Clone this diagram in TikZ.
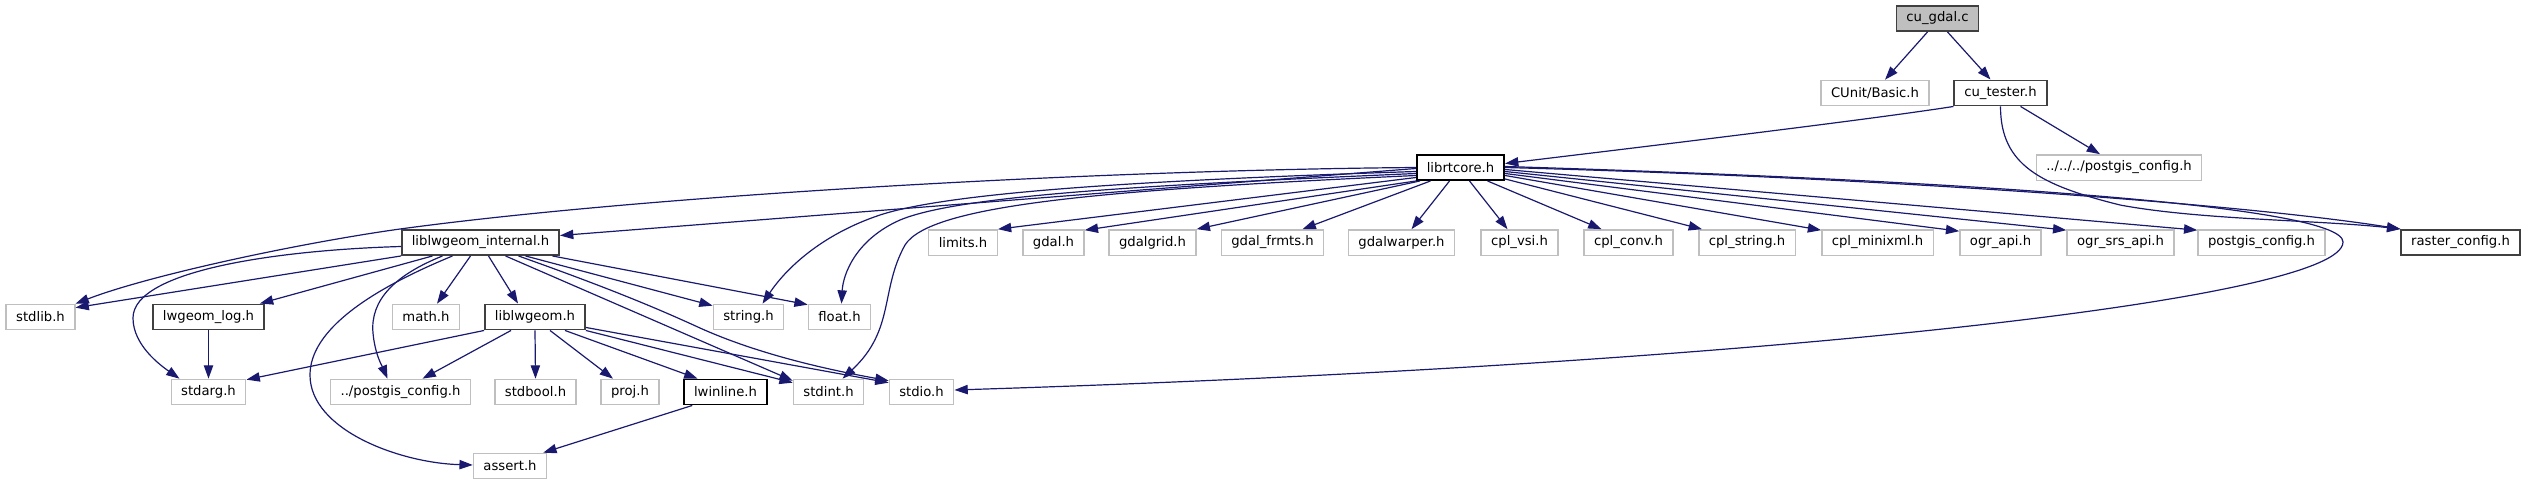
\documentclass[tikz,border=0pt]{standalone}
\usepackage{fontspec}
\setmainfont{DejaVu Sans}
\usepackage{tikz}
\usetikzlibrary{calc, positioning, arrows.meta}
\definecolor{edgeblue}{HTML}{191970}
\definecolor{boxgray}{HTML}{BFBFBF}
\definecolor{docgray}{HTML}{404040}
\newcommand{\hfont}{\fontsize{9.9}{11.9}\selectfont}

\begin{document}
\begin{tikzpicture}[x=0.75pt, y=-0.75pt,
	hdr/.style={draw=boxgray, line width=1pt, fill=white, minimum height=19pt, inner xsep=7.5pt, inner ysep=0pt, font=\hfont},
	doc/.style={hdr, draw=docgray, line width=1.2pt},
	cur/.style={doc, fill=boxgray},
	dep/.style={draw=edgeblue, line width=0.9pt, -{Triangle[length=10pt, width=7pt]}}]
	\useasboundingbox (0,0) rectangle (2525,485);

	%Ficheros
	\node[cur] (cugdal) at (1937.5,18.5) {cu\_gdal.c};
	\node[hdr] (cunit) at (1875,93) {CUnit/Basic.h};
	\node[doc] (cutester) at (2000.5,93) {cu\_tester.h};
	\node[doc, draw=black] (librtcore) at (1460.5,167.5) {librtcore.h};
	\node[hdr] (pgcfgtop) at (2119,167.5) {../../../postgis\_config.h};

	\node[doc] (liblwint) at (480.5,242.5) {liblwgeom\_internal.h};
	\node[hdr] (limits) at (963,242.5) {limits.h};
	\node[hdr] (gdal) at (1053.5,242.5) {gdal.h};
	\node[hdr] (gdalgrid) at (1152.5,242.5) {gdalgrid.h};
	\node[hdr] (gdalfrmts) at (1272.5,242.5) {gdal\_frmts.h};
	\node[hdr] (gdalwarper) at (1401.5,242.5) {gdalwarper.h};
	\node[hdr] (cplvsi) at (1519.5,242.5) {cpl\_vsi.h};
	\node[hdr] (cplconv) at (1628.5,242.5) {cpl\_conv.h};
	\node[hdr] (cplstring) at (1747,242.5) {cpl\_string.h};
	\node[hdr] (cplminixml) at (1877.5,242.5) {cpl\_minixml.h};
	\node[hdr] (ograpi) at (2000.5,242.5) {ogr\_api.h};
	\node[hdr] (ogrsrs) at (2120.5,242.5) {ogr\_srs\_api.h};
	\node[hdr] (pgcfg) at (2261.5,242.5) {postgis\_config.h};
	\node[doc] (rastercfg) at (2460.5,242.5) {raster\_config.h};

	\node[hdr] (stdlib) at (40.5,317) {stdlib.h};
	\node[doc] (lwlog) at (208.5,317) {lwgeom\_log.h};
	\node[hdr] (math) at (426,317) {math.h};
	\node[doc] (liblw) at (535,317) {liblwgeom.h};
	\node[hdr] (string) at (748.5,317) {string.h};
	\node[hdr] (float) at (839.5,317) {float.h};

	\node[hdr] (stdarg) at (208.5,392) {stdarg.h};
	\node[hdr] (pgcfglow) at (400.5,392) {../postgis\_config.h};
	\node[hdr] (stdbool) at (535.5,392) {stdbool.h};
	\node[hdr] (proj) at (630,392) {proj.h};
	\node[doc, draw=black] (lwinline) at (725.5,392) {lwinline.h};
	\node[hdr] (stdint) at (828.5,392) {stdint.h};
	\node[hdr] (stdio) at (921.5,392) {stdio.h};

	\node[hdr] (assert) at (510,466) {assert.h};

	%cu_gdal.c y cu_tester.h
	\draw[dep] ($(cugdal.south)+(-10,0)$) -- ($(cunit.north)+(10,0)$);
	\draw[dep] ($(cugdal.south)+(10,0)$) -- ($(cutester.north)+(-10,0)$);
	\draw[dep] (cutester.south west) .. controls (1880,118) and (1700,140) .. ($(librtcore.east)+(0,-4)$);
	\draw[dep] ($(cutester.south)+(20,0)$) -- ($(pgcfgtop.north)+(-19,0)$);
	\draw[dep] (cutester.south) .. controls (2000.5,165) and (2040,185) .. (2120,205) .. controls (2200,220) and (2320,220) .. (rastercfg.north west);

	%librtcore.h
	\draw[dep] ($(librtcore.west)+(0,1)$) -- ($(liblwint.east)+(0,-7)$);
	\draw[dep] (librtcore.west) .. controls (1100,170) and (650,195) .. (400,229) .. controls (300,243) and (150,275) .. (stdlib.north east);
	\draw[dep] ($(librtcore.west)+(0,4)$) .. controls (1150,180) and (950,192) .. (880,215) .. controls (820,235) and (785,270) .. ($(string.north)+(14,0)$);
	\draw[dep] ($(librtcore.west)+(0,6)$) .. controls (1150,185) and (960,195) .. (900,220) .. controls (855,240) and (843,275) .. ($(float.north)+(2,0)$);
	\draw[dep] ($(librtcore.west)+(0,8)$) .. controls (1100,190) and (930,205) .. (905,245) .. controls (880,290) and (895,330) .. ($(stdint.north)+(14,0)$);
	\draw[dep] ($(librtcore.west)+(0,10)$) -- (limits.north east);
	\draw[dep] (librtcore.south west) -- ($(gdal.north east)+(0,1)$);
	\draw[dep] ($(librtcore.south west)+(4,0)$) -- (gdalgrid.north east);
	\draw[dep] ($(librtcore.south)+(-30,0)$) -- ($(gdalfrmts.north)+(30,0)$);
	\draw[dep] ($(librtcore.south)+(-11,0)$) -- ($(gdalwarper.north)+(10,0)$);
	\draw[dep] ($(librtcore.south)+(9,0)$) -- ($(cplvsi.north)+(-12,0)$);
	\draw[dep] ($(librtcore.south)+(27,0)$) -- ($(cplconv.north)+(-27,0)$);
	\draw[dep] ($(librtcore.south east)+(0,-2)$) -- ($(cplstring.north)+(-45,0)$);
	\draw[dep] ($(librtcore.east)+(0,8)$) -- ($(cplminixml.north west)+(0,1)$);
	\draw[dep] ($(librtcore.east)+(0,6)$) -- ($(ograpi.north west)+(0,2)$);
	\draw[dep] ($(librtcore.east)+(0,4)$) -- ($(ogrsrs.north west)+(0,1)$);
	\draw[dep] ($(librtcore.east)+(0,2)$) -- ($(pgcfg.north west)+(0,1)$);
	\draw[dep] (librtcore.east) .. controls (1900,178) and (2250,205) .. (rastercfg.north west);
	\draw[dep] ($(librtcore.east)+(0,-1)$) .. controls (1950,180) and (2343,205) .. (2343,242) .. controls (2343,300) and (1750,365) .. ($(stdio.east)+(0,-2)$);

	%liblwgeom_internal.h
	\draw[dep] (liblwint.south west) -- ($(stdlib.north east)+(0,4)$);
	\draw[dep] ($(liblwint.west)+(0,4)$) .. controls (280,250) and (133,270) .. (133,318) .. controls (133,345) and (160,365) .. ($(stdarg.north west)+(9,0)$);
	\draw[dep] ($(liblwint.south)+(-48,0)$) -- ($(lwlog.north east)+(-5,0)$);
	\draw[dep] ($(liblwint.south)+(-10,0)$) -- ($(math.north)+(11,0)$);
	\draw[dep] ($(liblwint.south)+(8,0)$) -- ($(liblw.north)+(-17,0)$);
	\draw[dep] ($(liblwint.south)+(-38,0)$) .. controls (395,275) and (370,300) .. (373,333) .. controls (375,355) and (383,368) .. ($(pgcfglow.north)+(-13,0)$);
	\draw[dep] ($(liblwint.south)+(-28,0)$) .. controls (370,290) and (310,330) .. (310,375) .. controls (310,430) and (400,463) .. ($(assert.west)+(0,-1)$);
	\draw[dep] ($(liblwint.south)+(45,0)$) -- ($(string.north west)+(0,2)$);
	\draw[dep] ($(liblwint.south)+(72,0)$) -- ($(float.north west)+(0,1)$);
	\draw[dep] ($(liblwint.south)+(25,0)$) -- ($(stdint.north west)+(0,2)$);
	\draw[dep] ($(liblwint.south)+(38,0)$) .. controls (600,285) and (650,305) .. (700,328) .. controls (760,355) and (830,370) .. ($(stdio.north west)+(0,2)$);

	%liblwgeom.h
	\draw[dep] (liblw.south west) -- ($(stdarg.north east)+(0,1)$);
	\draw[dep] ($(liblw.south)+(-24,0)$) -- ($(pgcfglow.north)+(22,0)$);
	\draw[dep] (liblw.south) -- (stdbool.north);
	\draw[dep] ($(liblw.south)+(15,0)$) -- ($(proj.north)+(-17,0)$);
	\draw[dep] ($(liblw.south)+(30,0)$) -- ($(lwinline.north)+(-28,0)$);
	\draw[dep] (liblw.south east) -- ($(stdint.north west)+(0,4)$);
	\draw[dep] ($(liblw.south east)+(0,-3)$) -- ($(stdio.north west)+(0,4)$);

	\draw[dep] ($(lwinline.south west)+(9,0)$) -- ($(assert.north east)+(-4,0)$);
	\draw[dep] (lwlog.south) -- (stdarg.north);

\end{tikzpicture}
\end{document}
